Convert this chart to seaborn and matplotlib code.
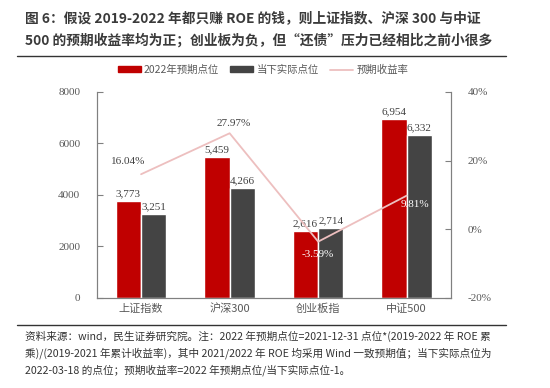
import numpy as np
import pandas as pd
import matplotlib
matplotlib.use("Agg")
import matplotlib.pyplot as plt
import matplotlib.patches as mpatches
import matplotlib.lines as mlines
import seaborn as sns

# data
categories = ["上证指数", "沪深300", "创业板指", "中证500"]
expected_pts = [3773, 5459, 2616, 6954]
current_pts = [3251, 4266, 2714, 6332]
expected_ret = [16.04, 27.97, -3.59, 9.81]
series_names = ["2022年预期点位", "当下实际点位"]
left_ticks = [0, 2000, 4000, 6000, 8000]
right_ticks = [-20, 0, 20, 40]

title_lines = [
    "图 6：假设 2019-2022 年都只赚 ROE 的钱，则上证指数、沪深 300 与中证",
    "500 的预期收益率均为正；创业板为负，但“还债”压力已经相比之前小很多",
]
note_lines = [
    "资料来源：wind，民生证券研究院。注：2022 年预期点位=2021-12-31 点位*(2019-2022 年 ROE 累",
    "乘)/(2019-2021 年累计收益率)，其中 2021/2022 年 ROE 均采用 Wind 一致预期值；当下实际点位为",
    "2022-03-18 的点位；预期收益率=2022 年预期点位/当下实际点位-1。",
]

RED = "#C00000"
GRAY = "#444444"
PINK = "#EDBFBF"
TICK = "#595959"
CJK = ["Noto Sans CJK SC", "DejaVu Sans"]
SERIF = ["Liberation Serif", "Noto Sans CJK SC"]

sns.set_style("white")
plt.rcParams["font.family"] = CJK

df = pd.DataFrame({
    "cat": categories * 2,
    "series": [series_names[0]] * 4 + [series_names[1]] * 4,
    "pts": expected_pts + current_pts,
})

fig = plt.figure(figsize=(5.5, 3.88), dpi=100)
ax = fig.add_axes([0.176, 0.232, 0.644, 0.531])

sns.barplot(data=df, x="cat", y="pts", hue="series", hue_order=series_names,
            palette=[RED, GRAY], width=0.57, gap=0, saturation=1,
            legend=False, ax=ax)
ax.set_xlim(-0.5, 3.5)
ax.set_ylim(0, 8000)
ax.set_yticks(left_ticks)
ax.set_xlabel("")
ax.set_ylabel("")
for lab in ax.get_yticklabels():
    lab.set_fontfamily(SERIF)
ax.tick_params(axis="y", direction="in", length=4, colors="#808080",
               labelcolor=TICK, labelsize=8, pad=12)
ax.tick_params(axis="x", length=0, labelcolor=TICK, labelsize=8, pad=4)

for cont in ax.containers:
    ax.bar_label(cont, labels=[f"{v:,.0f}" for v in cont.datavalues],
                 padding=2, fontsize=8, color="#404040", fontfamily=SERIF)

ax2 = ax.twinx()
sns.lineplot(x=np.arange(len(categories)), y=expected_ret, color=PINK,
             linewidth=1.3, ax=ax2)
ax2.set_ylim(-20, 40)
ax2.set_yticks(right_ticks)
ax2.set_yticklabels([f"{t}%" for t in right_ticks], fontfamily=SERIF)
ax2.tick_params(axis="y", direction="in", length=4, colors="#808080",
                labelcolor=TICK, labelsize=8, pad=12)

ret_offsets = [(-9, 6, "bottom"), (3, 4, "bottom"), (0, -6, "top"), (6, -3, "top")]
for i, v in enumerate(expected_ret):
    dx, dy, va = ret_offsets[i]
    col = "white" if i in (2, 3) else "#404040"
    ax2.annotate(f"{v:.2f}%", (i, v), xytext=(dx, dy), textcoords="offset points",
                 ha="center", va=va, fontsize=8, color=col, fontfamily=SERIF)

for a in (ax, ax2):
    for s in a.spines.values():
        s.set_color("#808080")
        s.set_linewidth(0.8)
    a.spines["top"].set_visible(False)

handles = [mpatches.Patch(color=RED, label=series_names[0]),
           mpatches.Patch(color=GRAY, label=series_names[1]),
           mlines.Line2D([], [], color=PINK, linewidth=1.3, label="预期收益率")]
fig.legend(handles=handles, loc="center", bbox_to_anchor=(0.478, 0.82), ncol=3,
           frameon=False, fontsize=7.5, handlelength=2.2, handleheight=0.45,
           columnspacing=1.1, handletextpad=0.3, labelcolor=TICK)

for k, line in enumerate(title_lines):
    fig.text(0.045, 1 - (18 + 22 * k) / 388, line, fontsize=9.9,
             fontweight="bold", color="#3a3a3a", va="center", ha="left")
fig.add_artist(mlines.Line2D([0.03, 0.92], [1 - 56 / 388] * 2,
                             color="#333333", linewidth=1.0))
fig.add_artist(mlines.Line2D([0.03, 0.92], [1 - 325 / 388] * 2,
                             color="#333333", linewidth=1.0))
for k, line in enumerate(note_lines):
    fig.text(0.045, 1 - (336 + 17 * k) / 388, line, fontsize=7.65,
             color="#333333", va="center", ha="left")

fig.savefig("out.png", dpi=100)
